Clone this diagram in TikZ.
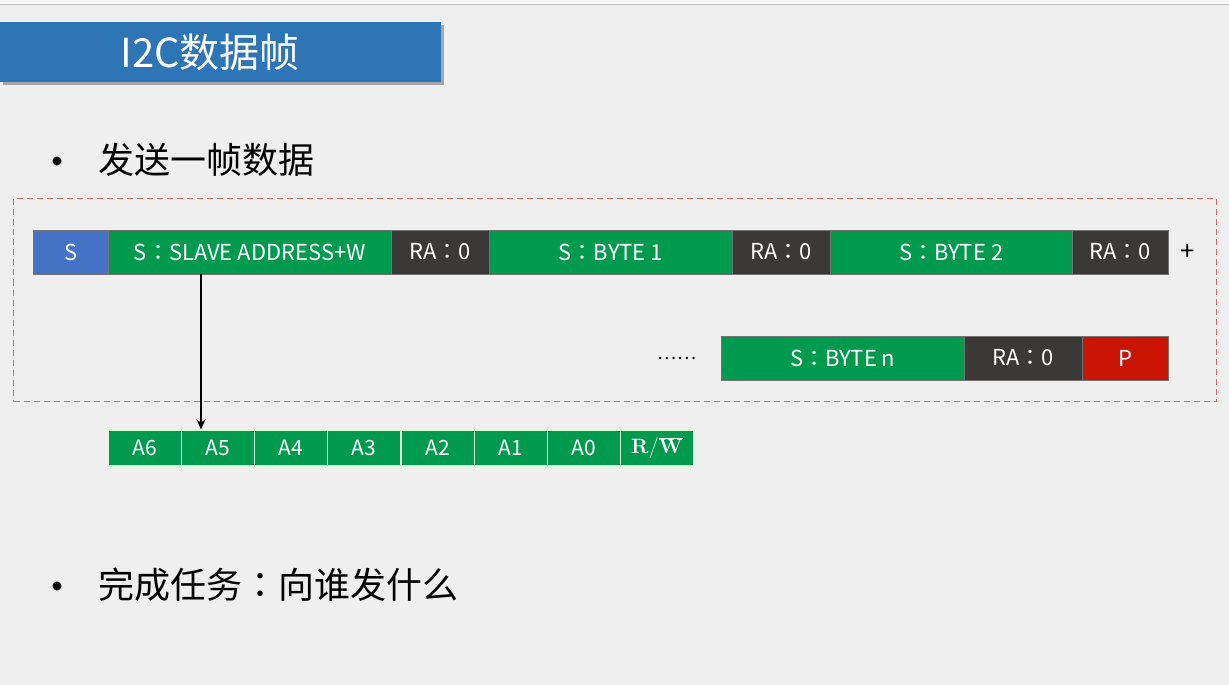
\documentclass[tikz,border=0pt]{standalone}
\usepackage[no-math]{fontspec}
\setmainfont{Noto Sans CJK SC}
\newfontfamily\tcfont{Noto Sans CJK TC}
\newcommand{\fcolon}{{\tcfont ：}}
\usetikzlibrary{arrows.meta}
\definecolor{bg}{HTML}{EFEFEF}
\definecolor{titleblue}{HTML}{2E75B6}
\definecolor{sblue}{HTML}{4472C4}
\definecolor{cgreen}{HTML}{009A4E}
\definecolor{cdark}{HTML}{3B3838}
\definecolor{cred}{HTML}{C81400}
\definecolor{dashred}{HTML}{E06666}
\tikzset{
  cell/.style={anchor=west, minimum height=44pt, inner sep=0pt, draw=black!55, line width=0.6pt,
    text=white, font=\fontsize{22}{26}\selectfont},
  bit/.style={anchor=west, minimum height=36pt, minimum width=73pt, inner sep=0pt, fill=cgreen,
    draw=green!15!white, line width=1.2pt, text=white, font=\fontsize{21}{25}\selectfont},
  bullettext/.style={anchor=west, inner sep=0pt, font=\fontsize{36}{40}\selectfont},
  bulletdot/.style={circle, fill=black, inner sep=0pt, minimum size=9pt},
}
\begin{document}
\begin{tikzpicture}[x=1pt,y=-1pt]
\useasboundingbox (0,0) rectangle (1229,685);
\fill[bg] (0,0) rectangle (1229,685);
\fill[white!97!black] (0,0) rectangle (1229,4);
\draw[black!25, line width=0.8pt] (0,4.5) -- (1229,4.5);
% title
\fill[black!35] (3,25) rectangle (444,85);
\node[fill=titleblue, anchor=north west, minimum width=441pt, minimum height=60pt, inner sep=0pt] (title) at (0,22) {};
\node[text=white, font=\fontsize{40}{44}\selectfont] (titletext) at (210,52) {I2C数据帧};
% bullet 1
\node[bulletdot] (b1) at (57,161) {};
\node[bullettext] (t1) at (98,160) {发送一帧数据};
% dashed frame
\node[draw=dashred, dashed, dash pattern=on 6pt off 4pt, line width=1pt, anchor=north west,
  minimum width=1203pt, minimum height=203pt, inner sep=0pt] (frame) at (13,198) {};
% row 1
\node[cell, fill=sblue, minimum width=75pt] (s) at (33,252) {S};
\node[cell, fill=cgreen, minimum width=283pt] (addr) at (108,252) {S\fcolon SLAVE ADDRESS+W};
\node[cell, fill=cdark, minimum width=98pt] (ra1) at (391,252) {RA\fcolon 0};
\node[cell, fill=cgreen, minimum width=243pt] (b1c) at (489,252) {S\fcolon BYTE 1};
\node[cell, fill=cdark, minimum width=98pt] (ra2) at (732,252) {RA\fcolon 0};
\node[cell, fill=cgreen, minimum width=242pt] (b2c) at (830,252) {S\fcolon BYTE 2};
\node[cell, fill=cdark, minimum width=96pt] (ra3) at (1072,252) {RA\fcolon 0};
\node[font=\fontsize{26}{30}\selectfont, inner sep=0pt] (plus) at (1188,252) {+};
% row 2
\node[font=\fontsize{18}{22}\selectfont, inner sep=0pt] (dots) at (677,358) {……};
\node[cell, fill=cgreen, minimum width=243pt] (bn) at (721,358) {S\fcolon BYTE n};
\node[cell, fill=cdark, minimum width=118pt] (ra4) at (964,358) {RA\fcolon 0};
\node[cell, fill=cred, minimum width=86pt] (p) at (1082,358) {P};
% bits
\node[bit] (a6) at (108,448) {A6};
\node[bit] (a5) at (181,448) {A5};
\node[bit] (a4) at (254,448) {A4};
\node[bit] (a3) at (327,448) {A3};
\node[bit] (a2) at (401,448) {A2};
\node[bit] (a1) at (474,448) {A1};
\node[bit] (a0) at (547,448) {A0};
\node[bit, font=\fontsize{22}{26}\selectfont] (rw) at (620,448) {$\mathbf{R}/\overline{\mathbf{W}}$};
% arrow
\coordinate (ax) at (201,0);
\draw[-{Stealth[length=10pt,width=9pt]}, line width=2.3pt] (addr.south -| ax) -- (a5.north -| ax);
% bullet 2
\node[bulletdot] (b2) at (57,586) {};
\node[bullettext] (t2) at (98,585) {完成任务\fcolon 向谁发什么};
\end{tikzpicture}
\end{document}
